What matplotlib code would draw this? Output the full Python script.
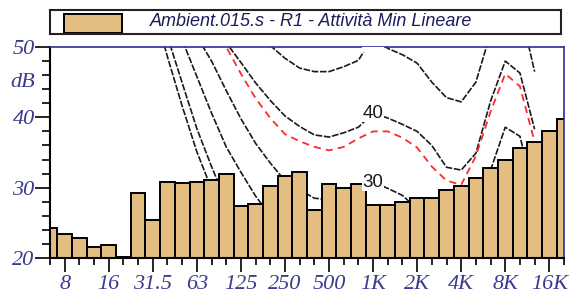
import matplotlib

matplotlib.use("Agg")
import matplotlib.pyplot as plt
import numpy as np
from matplotlib.patches import Rectangle
from matplotlib.ticker import FixedLocator, MultipleLocator

# third-octave bands, 6.3 Hz .. 20 kHz
bands = ["6.3", "8", "10", "12.5", "16", "20", "25", "31.5", "40", "50",
         "63", "80", "100", "125", "160", "200", "250", "315", "400", "500",
         "630", "800", "1K", "1.25K", "1.6K", "2K", "2.5K", "3.15K", "4K",
         "5K", "6.3K", "8K", "10K", "12.5K", "16K", "20K"]
octave_labels = ["8", "16", "31.5", "63", "125", "250", "500", "1K", "2K",
                 "4K", "8K", "16K"]

level_db = [24.2, 23.4, 22.8, 21.6, 21.9, 20.1, 29.3, 25.4, 30.8, 30.6,
            30.8, 31.1, 32.0, 27.4, 27.7, 30.2, 31.7, 32.2, 26.8, 30.5,
            29.9, 30.5, 27.6, 27.6, 28.0, 28.5, 28.5, 29.7, 30.2, 31.4,
            32.8, 33.9, 35.6, 36.5, 38.1, 39.8]

# iso-level curves, each one starts at a band index and runs to 12.5K
phon0_start = 7
phon0_db = [56.0, 48.6, 41.6, 35.1, 29.8, 24.5, 20.5, 17.0, 14.0, 11.5, 9.5,
            7.5, 6.0, 5.0, 4.5, 4.5, 5.0, 4.0, 1.5, -1.5, -3.5, -4.0, -2.0,
            4.0, 9.5, 10.0, 3.0]
phon10_start = 8
phon10_db = [51.5, 44.9, 38.4, 33.0, 28.0, 24.5, 21.5, 19.0, 16.5, 14.5,
             12.5, 11.0, 10.5, 10.5, 11.0, 10.5, 9.5, 7.0, 4.5, 3.0, 2.5,
             5.5, 12.0, 18.0, 17.5, 10.0]
phon20_start = 8
phon20_db = [55.0, 51.0, 45.8, 40.6, 35.8, 32.2, 28.8, 26.0, 23.5, 22.0,
             20.5, 19.8, 20.0, 20.5, 21.0, 20.5, 19.5, 17.5, 15.0, 13.5,
             13.0, 16.0, 22.5, 28.5, 27.5, 19.5]
phon30_start = 9
phon30_db = [55.5, 51.5, 48.0, 43.8, 39.8, 36.3, 33.5, 31.0, 29.7, 28.5,
             28.3, 29.0, 29.8, 30.8, 29.9, 28.9, 27.0, 24.5, 22.8, 22.5,
             25.5, 32.5, 38.6, 37.3, 29.0]
phon40_start = 11
phon40_db = [54.0, 50.6, 47.8, 44.9, 42.4, 40.2, 38.7, 37.5, 37.2, 37.8,
             38.6, 40.6, 39.9, 39.0, 38.0, 36.0, 32.9, 32.5, 34.9, 42.3,
             48.0, 46.3, 38.3]
phon50_start = 13
phon50_db = [56.0, 52.5, 50.2, 48.4, 47.0, 46.5, 46.5, 47.2, 48.1, 51.5,
             49.8, 48.9, 47.7, 45.0, 42.8, 42.2, 45.0, 52.0, 58.0, 55.5,
             46.5]
limit_start = 11
limit_db = [54.5, 50.0, 46.2, 42.7, 39.9, 37.6, 36.6, 35.8, 35.3, 35.8, 37.0,
            38.0, 38.0, 37.1, 35.7, 33.0, 31.0, 30.4, 34.5, 40.8, 46.2, 44.4,
            36.5]

label_band = "1K"
legend_text = "Ambient.015.s - R1 - Attività Min Lineare"

BAR_COLOR = "#e4be80"
BLUE = "#2b2b9b"
TICK_COLOR = "#3b3b8f"
YMIN, YMAX = 20, 50

fig = plt.figure(figsize=(5.69, 3.0), dpi=100)
ax = fig.add_axes([50 / 569, 1 - 258 / 300, 514 / 569, 211 / 300])

x = np.arange(len(bands))
black_curves = [
    (phon0_start, phon0_db, None),
    (phon10_start, phon10_db, None),
    (phon20_start, phon20_db, None),
    (phon30_start, phon30_db, "30"),
    (phon40_start, phon40_db, "40"),
    (phon50_start, phon50_db, "50"),
]
li = bands.index(label_band)
for start, vals, name in black_curves:
    xs = np.arange(start, start + len(vals))
    ax.plot(xs, vals, color="#1a1a1a", lw=1.2, ls=(0, (4, 1)), zorder=1)
    if name is not None:
        # labels sitting past the top edge are only partly shown
        ly = min(vals[li - start], YMAX + 0.6)
        ax.text(li, ly, name, ha="center", va="center",
                fontsize=13.5, family="Liberation Sans", color="#1a1a1a",
                bbox=dict(fc="white", ec="none", pad=0.3), zorder=3,
                clip_on=True)

xs = np.arange(limit_start, limit_start + len(limit_db))
ax.plot(xs, limit_db, color="#ff2a2a", lw=1.3, ls=(0, (4, 2.8)), zorder=1)

ax.bar(x, level_db, width=1.0, color=BAR_COLOR, edgecolor="black",
       linewidth=1.4, zorder=2)

ax.set_xlim(0, len(bands) - 1)
ax.set_ylim(YMIN, YMAX)

for side in ("top", "right"):
    ax.spines[side].set_color(BLUE)
    ax.spines[side].set_linewidth(1.2)
for side in ("left", "bottom"):
    ax.spines[side].set_color("black")
    ax.spines[side].set_linewidth(1.5)

octave_idx = [bands.index(b) for b in octave_labels]
ax.set_xticks(octave_idx)
ax.set_xticklabels(octave_labels)
ax.xaxis.set_minor_locator(
    FixedLocator([i for i in x if i not in octave_idx]))
ax.set_yticks([20, 30, 40, 50])
ax.yaxis.set_minor_locator(MultipleLocator(2))

ax.tick_params(axis="x", which="major", length=10, width=1.2, pad=2,
               labelsize=16, labelcolor=TICK_COLOR)
ax.tick_params(axis="x", which="minor", length=5, width=1.2)
ax.tick_params(axis="y", which="major", length=10.5, width=1.2, pad=0.5,
               labelsize=16, labelcolor=TICK_COLOR)
ax.tick_params(axis="y", which="minor", length=6, width=1.2)
for lbl in ax.get_xticklabels() + ax.get_yticklabels():
    lbl.set_fontfamily("Liberation Serif")
    lbl.set_fontstyle("italic")

ax.text(-15 / 514, 45, "dB", transform=ax.get_yaxis_transform(),
        ha="right", va="center", fontsize=16, family="Liberation Serif",
        style="italic", color=TICK_COLOR)

# legend box above the plot
lax = fig.add_axes([50 / 569, 1 - 34 / 300, 511 / 569, 24 / 300])
lax.set_xlim(0, 511)
lax.set_ylim(24, 0)
lax.set_xticks([])
lax.set_yticks([])
for sp in lax.spines.values():
    sp.set_color("#222222")
    sp.set_linewidth(1.5)
lax.add_patch(Rectangle((14, 4), 58, 19, facecolor=BAR_COLOR,
                        edgecolor="black", linewidth=1.4))
lax.text(100, 11.5, legend_text, ha="left", va="center", fontsize=13,
         family="Liberation Sans", style="italic", color="#1c1c5c")

fig.savefig("out.png", dpi=100)
